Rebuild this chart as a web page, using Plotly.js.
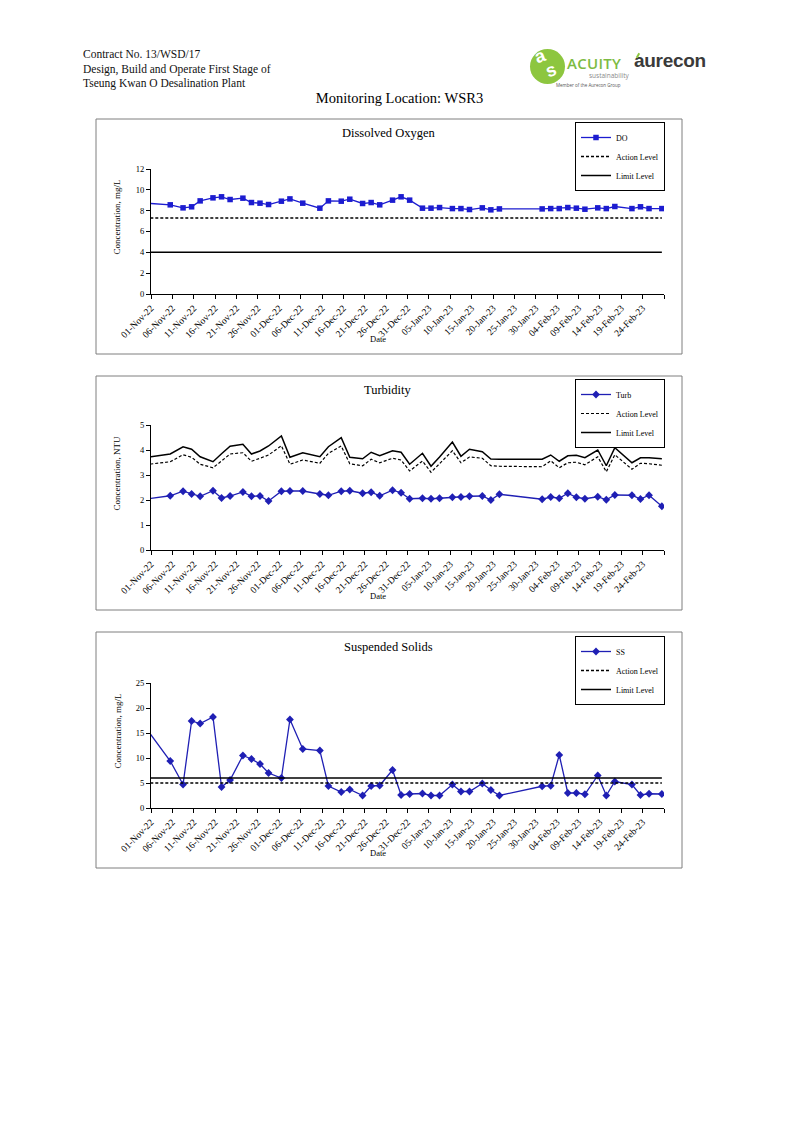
<!DOCTYPE html>
<html>
<head>
<meta charset="utf-8">
<script src="https://cdn.plot.ly/plotly-3.0.1.min.js"></script>
<style>
html,body{margin:0;padding:0;background:#fff;width:794px;height:1123px;overflow:hidden;}
#chart{position:absolute;left:0;top:0;width:794px;height:1123px;}
.hdr{position:absolute;left:83px;top:47px;font-family:'Liberation Serif',serif;font-size:11.5px;line-height:14.5px;color:#111;white-space:nowrap;z-index:2;}
.loc{position:absolute;left:0;width:799px;top:90px;text-align:center;font-family:'Liberation Serif',serif;font-size:14.5px;color:#000;z-index:2;}
.logo-circle{position:absolute;left:530px;top:49px;width:35px;height:35px;border-radius:50%;background:#8dc63f;z-index:2;}
.logo-a{position:absolute;left:535px;top:46px;font-family:'Liberation Sans',sans-serif;font-weight:bold;font-size:18px;color:#fff;z-index:3;transform:rotate(-20deg);}
.logo-s{position:absolute;left:546px;top:60px;font-family:'Liberation Sans',sans-serif;font-weight:bold;font-size:18px;color:#fff;z-index:3;transform:rotate(-20deg);}
.acuity{position:absolute;left:567px;top:53px;font-family:'Open Sans',sans-serif;font-size:15px;font-weight:600;color:#7dbb42;letter-spacing:0.3px;z-index:2;}
.sust{position:absolute;left:589px;top:71px;font-family:'Open Sans',sans-serif;font-size:6.5px;color:#8a8a8a;z-index:2;}
.member{position:absolute;left:556px;top:82px;font-family:'Open Sans',sans-serif;font-size:4.5px;color:#555;z-index:2;white-space:nowrap;}
.aurecon{position:absolute;left:634px;top:50px;font-family:'Liberation Sans',sans-serif;font-weight:bold;font-size:19px;color:#3a3a3a;letter-spacing:-0.3px;z-index:2;}
.aur-acc{position:absolute;left:637px;top:53px;width:2px;height:5px;background:#8dc63f;transform:rotate(30deg);z-index:3;}
</style>
</head>
<body>
<div id="chart"></div>
<div class="hdr">Contract No. 13/WSD/17<br>Design, Build and Operate First Stage of<br>Tseung Kwan O Desalination Plant</div>
<div class="logo-circle"></div><div class="logo-a">a</div><div class="logo-s">s</div>
<div class="acuity">ACUITY</div>
<div class="sust">sustainability</div>
<div class="member">Member of the Aurecon Group</div>
<div class="aurecon">aurecon</div><div class="aur-acc"></div>
<div class="loc">Monitoring Location: WSR3</div>
<script>
// ---------------- DATA ----------------
const measureDates = ['2022-10-29','2022-11-05','2022-11-08','2022-11-10','2022-11-12','2022-11-15','2022-11-17','2022-11-19','2022-11-22','2022-11-24','2022-11-26','2022-11-28',
 '2022-12-01','2022-12-03','2022-12-06','2022-12-10','2022-12-12','2022-12-15','2022-12-17','2022-12-20','2022-12-22','2022-12-24','2022-12-27','2022-12-29','2022-12-31',
 '2023-01-03','2023-01-05','2023-01-07','2023-01-10','2023-01-12','2023-01-14','2023-01-17','2023-01-19','2023-01-21','2023-01-31',
 '2023-02-02','2023-02-04','2023-02-06','2023-02-08','2023-02-10','2023-02-13','2023-02-15','2023-02-17','2023-02-21','2023-02-23','2023-02-25','2023-02-28'];

const doValues = [8.76,8.56,8.27,8.37,8.94,9.23,9.33,9.07,9.2,8.78,8.72,8.59,
 8.91,9.13,8.72,8.24,8.94,8.91,9.1,8.69,8.78,8.56,9.01,9.33,9.01,
 8.24,8.24,8.3,8.2,8.2,8.11,8.27,8.08,8.17,8.17,
 8.2,8.2,8.3,8.24,8.14,8.27,8.2,8.4,8.2,8.37,8.2,8.2];
const doActionLevel = 7.3;
const doLimitLevel = 4;

const turbValues = [2.01,2.17,2.35,2.24,2.15,2.37,2.08,2.16,2.32,2.15,2.16,1.96,
 2.35,2.36,2.36,2.24,2.19,2.35,2.37,2.27,2.31,2.17,2.39,2.29,2.05,
 2.07,2.05,2.07,2.11,2.12,2.15,2.16,2.0,2.23,2.03,
 2.12,2.07,2.27,2.11,2.05,2.13,2.01,2.2,2.19,2.04,2.19,1.75];
const turbActionLevel = [3.39,3.53,3.81,3.71,3.43,3.29,3.56,3.84,3.89,3.55,3.67,3.8,
 4.17,3.43,3.6,3.47,3.87,4.16,3.45,3.37,3.63,3.49,3.67,3.6,3.16,
 3.56,3.11,3.47,3.97,3.49,3.72,3.67,3.37,3.35,3.33,
 3.57,3.29,3.49,3.51,3.41,3.73,3.13,3.81,3.23,3.47,3.45,3.39];
const turbLimitLevel = [3.67,3.84,4.13,4.03,3.73,3.53,3.85,4.15,4.23,3.84,3.96,4.16,
 4.56,3.71,3.89,3.73,4.13,4.49,3.71,3.65,3.91,3.77,3.97,3.91,3.43,
 3.87,3.35,3.72,4.32,3.75,4.03,3.93,3.64,3.63,3.63,
 3.8,3.55,3.77,3.79,3.69,4.0,3.37,4.09,3.49,3.69,3.69,3.65];

const ssValues = [17.5,9.4,4.7,17.4,16.9,18.2,4.2,5.6,10.5,9.8,8.8,7.0,
 6.0,17.7,11.8,11.5,4.4,3.2,3.7,2.5,4.4,4.5,7.6,2.6,2.8,
 2.9,2.5,2.5,4.7,3.3,3.3,4.9,3.6,2.5,4.35,
 4.45,10.6,3.0,3.0,2.75,6.5,2.5,5.3,4.7,2.6,2.85,2.8];
const ssActionLevel = 5;
const ssLimitLevel = 6;

const tickDates = ['2022-11-01','2022-11-06','2022-11-11','2022-11-16','2022-11-21','2022-11-26','2022-12-01','2022-12-06','2022-12-11','2022-12-16','2022-12-21','2022-12-26','2022-12-31',
 '2023-01-05','2023-01-10','2023-01-15','2023-01-20','2023-01-25','2023-01-30','2023-02-04','2023-02-09','2023-02-14','2023-02-19','2023-02-24','2023-03-01'];
const tickLabels = ['01-Nov-22','06-Nov-22','11-Nov-22','16-Nov-22','21-Nov-22','26-Nov-22','01-Dec-22','06-Dec-22','11-Dec-22','16-Dec-22','21-Dec-22','26-Dec-22','31-Dec-22',
 '05-Jan-23','10-Jan-23','15-Jan-23','20-Jan-23','25-Jan-23','30-Jan-23','04-Feb-23','09-Feb-23','14-Feb-23','19-Feb-23','24-Feb-23',''];
const xRange = ['2022-11-01','2023-03-01'];

// ---------------- LAYOUT HELPERS ----------------
const W = 794, H = 1123;
const px = v => v / W;
const py = v => 1 - v / H;
const FONT = 'Liberation Serif, Times New Roman, serif';
const X = measureDates.map(d => d + ' 12:00');
const XE = [X[0], X[X.length - 1]];

const panels = [
  {box:[96,119,682,354], plot:[169,294], title:'Dissolved Oxygen', titleY:133, dateY:339, ytitle:'Concentration, mg/L', yr:[0,12], dt:2, legTop:122},
  {box:[96,376,682,610], plot:[425,550], title:'Turbidity', titleY:390, dateY:596, ytitle:'Concentration, NTU', yr:[0,5], dt:1, legTop:379},
  {box:[96,632,682,868], plot:[683,808], title:'Suspended Solids', titleY:647, dateY:853, ytitle:'Concentration, mg/L', yr:[0,25], dt:5, legTop:636}
];
const plotX0 = 151, plotX1 = 664;

const layout = {
  width: W, height: H, margin:{l:0,r:0,t:0,b:0},
  paper_bgcolor:'#fff', plot_bgcolor:'rgba(0,0,0,0)',
  font:{family:FONT, color:'#000'},
  showlegend:true, shapes:[], annotations:[]
};

panels.forEach((p, i) => {
  const s = i === 0 ? '' : String(i + 1);
  layout['xaxis' + s] = {
    domain:[px(plotX0), px(plotX1)], anchor:'y' + s, type:'date', range:xRange,
    tickmode:'array', tickvals:tickDates, ticktext:tickLabels, tickangle:-45,
    ticks:'outside', ticklen:4, tickcolor:'#000', showline:true, linecolor:'#000', linewidth:1,
    showgrid:false, zeroline:false, tickfont:{family:FONT, size:9.5, color:'#000'}, fixedrange:true
  };
  layout['yaxis' + s] = {
    domain:[py(p.plot[1]), py(p.plot[0])], anchor:'x' + s, range:p.yr, tick0:0, dtick:p.dt,
    ticks:'outside', ticklen:4, tickcolor:'#000', showline:true, linecolor:'#000', linewidth:1,
    showgrid:false, zeroline:false, tickfont:{family:FONT, size:8.5, color:'#000'}, fixedrange:true
  };
  layout[i === 0 ? 'legend' : 'legend' + (i + 1)] = {
    x:px(665), xanchor:'right', y:py(p.legTop), yanchor:'top',
    bgcolor:'#fff', bordercolor:'#000', borderwidth:1,
    font:{family:FONT, size:8, color:'#000'}, itemwidth:30, tracegroupgap:0
  };
  layout.shapes.push({type:'rect', xref:'paper', yref:'paper',
    x0:px(p.box[0]), x1:px(p.box[2]), y0:py(p.box[3]), y1:py(p.box[1]),
    line:{color:'#7f7f7f', width:1}, fillcolor:'rgba(0,0,0,0)', layer:'below'});
  layout.annotations.push({xref:'paper', yref:'paper', x:px(388), y:py(p.titleY), text:p.title,
    showarrow:false, xanchor:'center', yanchor:'middle', font:{family:FONT, size:12.5, color:'#000'}});
  layout.annotations.push({xref:'paper', yref:'paper', x:px(378), y:py(p.dateY), text:'Date',
    showarrow:false, xanchor:'center', yanchor:'middle', font:{family:FONT, size:8.5, color:'#000'}});
  layout.annotations.push({xref:'paper', yref:'paper', x:px(117), y:py((p.plot[0] + p.plot[1]) / 2 - 14), text:p.ytitle,
    textangle:-90, showarrow:false, xanchor:'center', yanchor:'middle', font:{family:FONT, size:9, color:'#000'}});
});

const blue = '#1c1cd0';
const navy = '#1f1fb4';
const dash = '3px,2px';

const traces = [
  {x:X, y:doValues, name:'DO', type:'scatter', mode:'lines+markers', xaxis:'x', yaxis:'y', legend:'legend',
   line:{color:blue, width:1.3}, marker:{symbol:'square', size:5.5, color:blue}},
  {x:XE, y:[doActionLevel, doActionLevel], name:'Action Level', type:'scatter', mode:'lines', xaxis:'x', yaxis:'y', legend:'legend',
   line:{color:'#000', width:1.5, dash:dash}},
  {x:XE, y:[doLimitLevel, doLimitLevel], name:'Limit Level', type:'scatter', mode:'lines', xaxis:'x', yaxis:'y', legend:'legend',
   line:{color:'#000', width:1.5}},

  {x:X, y:turbValues, name:'Turb', type:'scatter', mode:'lines+markers', xaxis:'x2', yaxis:'y2', legend:'legend2',
   line:{color:navy, width:1.3}, marker:{symbol:'diamond', size:6, color:navy}},
  {x:X, y:turbActionLevel, name:'Action Level', type:'scatter', mode:'lines', xaxis:'x2', yaxis:'y2', legend:'legend2',
   line:{color:'#000', width:1.2, dash:dash}},
  {x:X, y:turbLimitLevel, name:'Limit Level', type:'scatter', mode:'lines', xaxis:'x2', yaxis:'y2', legend:'legend2',
   line:{color:'#000', width:1.5}},

  {x:X, y:ssValues, name:'SS', type:'scatter', mode:'lines+markers', xaxis:'x3', yaxis:'y3', legend:'legend3',
   line:{color:navy, width:1.3}, marker:{symbol:'diamond', size:6, color:navy}},
  {x:XE, y:[ssActionLevel, ssActionLevel], name:'Action Level', type:'scatter', mode:'lines', xaxis:'x3', yaxis:'y3', legend:'legend3',
   line:{color:'#000', width:1.5, dash:dash}},
  {x:XE, y:[ssLimitLevel, ssLimitLevel], name:'Limit Level', type:'scatter', mode:'lines', xaxis:'x3', yaxis:'y3', legend:'legend3',
   line:{color:'#000', width:1.5}}
];

Plotly.newPlot('chart', traces, layout, {staticPlot:true, displayModeBar:false});
</script>
</body>
</html>
